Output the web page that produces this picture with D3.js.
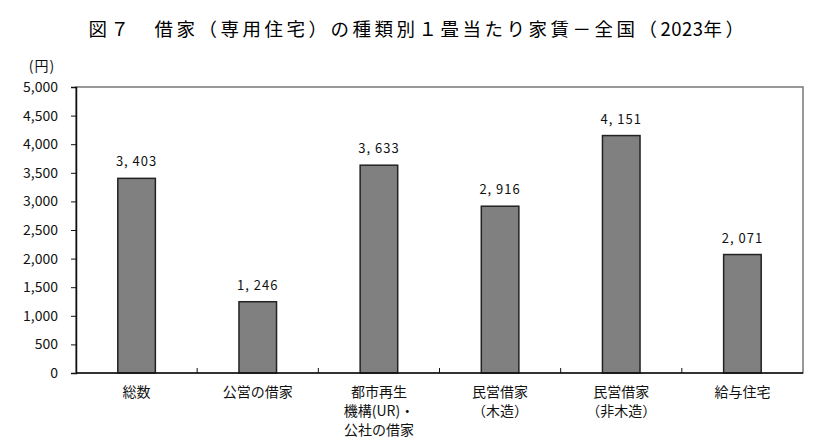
<!DOCTYPE html>
<html>
<head>
<meta charset="utf-8">
<script src="https://cdn.jsdelivr.net/npm/d3@7"></script>
<style>
  body { margin: 0; background: #fff; }
  text { font-family: "Noto Sans CJK JP", sans-serif; fill: #111; }
</style>
</head>
<body>
<div id="chart"></div>
<script>
// categories (multi-line labels split by "\n") and values
const categories = ["総数", "公営の借家", "都市再生\n機構(UR)・\n公社の借家", "民営借家\n（木造）", "民営借家\n（非木造）", "給与住宅"];
const values = [3403, 1246, 3633, 2916, 4151, 2071];
const yTicks = [0, 500, 1000, 1500, 2000, 2500, 3000, 3500, 4000, 4500, 5000];

const width = 838,
      height = 442,
      margin = ({top: 87, right: 35, bottom: 69, left: 76});

const data = categories.map((c, i) => ({cat: c, val: values[i]}));

let svg = d3.select("#chart")
    .append("svg")
    .attr("width", width)
    .attr("height", height);

// title, the year digits are set tighter like in the original
let title = svg.append("text")
    .attr("x", 418)
    .attr("y", 36)
    .attr("text-anchor", "middle")
    .attr("font-size", 18.5)
    .style("fill", "#000");
title.append("tspan").attr("letter-spacing", 3.5).text("図７　借家（専用住宅）の種類別１畳当たり家賃－全国（");
title.append("tspan").attr("letter-spacing", 0.5).text("2023");
title.append("tspan").attr("letter-spacing", 3.5).text("年）");

let x = d3.scaleBand()
    .domain(categories)
    .range([margin.left, width - margin.right]);

let y = d3.scaleLinear()
    .domain([0, 5000])
    .range([height - margin.bottom, margin.top]);

// plot frame (top / right in gray)
svg.append("rect")
    .attr("x", margin.left)
    .attr("y", margin.top)
    .attr("width", width - margin.right - margin.left)
    .attr("height", height - margin.bottom - margin.top)
    .attr("fill", "none")
    .attr("stroke", "#777")
    .attr("stroke-width", 1.5);

// y axis
const yAxis = g => g
    .attr("transform", `translate(${margin.left}, 0)`)
    .call(d3.axisLeft(y).tickValues(yTicks).tickSize(5).tickPadding(13).tickFormat(d3.format(",")))
    .call(g => g.select(".domain").attr("stroke", "#111").attr("stroke-width", 1.5))
    .call(g => g.selectAll(".tick line").attr("stroke", "#111"))
    .call(g => g.selectAll(".tick text").attr("font-size", 14).attr("font-family", "'Noto Sans CJK JP', sans-serif").style("fill", "#111"));

svg.append("g").call(yAxis);

svg.append("text")
    .attr("x", 42)
    .attr("y", 71)
    .attr("text-anchor", "middle")
    .attr("font-size", 14)
    .attr("letter-spacing", 1)
    .text("(円)");

// bars
let bar = svg.selectAll(".bar")
    .data(data)
    .join("g")
    .attr("class", "bar");

const bw = x.bandwidth() * 0.31;

bar.append("rect")
    .attr("x", d => x(d.cat) + x.bandwidth() / 2 - bw / 2)
    .attr("width", bw)
    .attr("y", d => y(d.val))
    .attr("height", d => y(0) - y(d.val))
    .attr("fill", "#808080")
    .attr("stroke", "#222")
    .attr("stroke-width", 1.5);

bar.append("text")
    .attr("x", d => x(d.cat) + x.bandwidth() / 2)
    .attr("y", d => y(d.val) - 12)
    .attr("text-anchor", "middle")
    .attr("font-size", 13)
    .attr("letter-spacing", 1)
    .text(d => d3.format(",")(d.val).replace(",", ", "));

// x axis line and ticks at category boundaries
const bottom = y(0);
svg.append("line")
    .attr("x1", margin.left).attr("x2", width - margin.right)
    .attr("y1", bottom).attr("y2", bottom)
    .attr("stroke", "#111").attr("stroke-width", 1.5);

svg.selectAll(".xtick")
    .data(categories.slice(1))
    .join("line")
    .attr("class", "xtick")
    .attr("x1", d => x(d)).attr("x2", d => x(d))
    .attr("y1", bottom).attr("y2", bottom - 5)
    .attr("stroke", "#111");

// category labels
svg.selectAll(".xlabel")
    .data(categories)
    .join("text")
    .attr("class", "xlabel")
    .attr("x", d => x(d) + x.bandwidth() / 2)
    .attr("y", bottom + 24)
    .attr("text-anchor", "middle")
    .attr("font-size", 14)
    .each(function(d) {
        d.split("\n").forEach((line, i) => {
            d3.select(this).append("tspan")
                .attr("x", x(d) + x.bandwidth() / 2)
                .attr("dy", i === 0 ? 0 : 19)
                .text(line);
        });
    });
</script>
</body>
</html>
